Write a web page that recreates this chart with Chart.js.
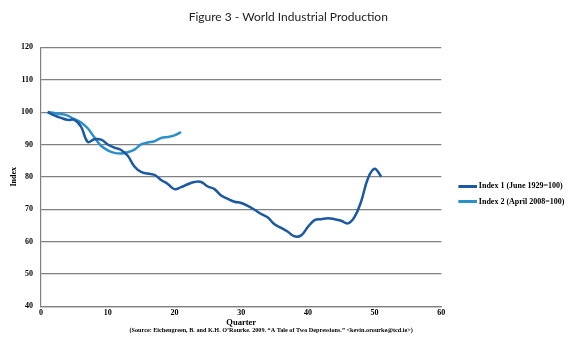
<!DOCTYPE html>
<html>
<head>
<meta charset="utf-8">
<script src="https://cdn.jsdelivr.net/npm/chart.js@4/dist/chart.umd.min.js"></script>
<style>
  html, body { margin: 0; padding: 0; background: #fff; }
  #wrap { width: 576px; height: 343px; }
</style>
</head>
<body>
<div id="wrap"><canvas id="Chart1"></canvas></div>
<script>
// Index 1 (June 1929=100), by quarter
const quarters1 = [1,2,3,4,5,6,7,8,9,10,11,12,13,14,15,16,17,18,19,20,21,22,23,24,25,26,27,28,29,30,31,32,33,34,35,36,37,38,39,40,41,42,43,44,45,46,47,48,49,50,51];
const index1 = [100,99.0,98.2,97.6,97.6,95.5,90.8,91.6,91.5,90.0,89.0,88.3,86.5,83.2,81.5,81.0,80.6,79.0,77.8,76.2,76.8,77.7,78.4,78.4,77.0,76.2,74.2,73.2,72.3,71.9,71.0,69.8,68.5,67.4,65.3,64.2,63.0,61.6,61.9,64.5,66.6,66.9,67.2,66.9,66.4,65.6,67.6,72.5,79.5,82.5,80.0];

// Index 2 (April 2008=100), by quarter
const quarters2 = [1,2,3,4,5,6,7,8,9,10,11,12,13,14,15,16,17,18,19,20,21];
const index2 = [100,99.7,99.4,98.9,97.8,96.8,95.0,92.2,89.6,88.2,87.4,87.2,87.6,88.4,90.0,90.6,91.0,92.0,92.3,92.8,93.8];

const seriesLabels = ["Index 1 (June 1929=100)", "Index 2 (April 2008=100)"];
const seriesColors = ["#1d58a2", "#2b90c8"];
const sourceText = "(Source: Eichengreen, B. and K.H. O\u2019Rourke. 2009. \u201cA Tale of Two Depressions.\u201d <kevin.orourke@tcd.ie>)";

const serif = "'Liberation Serif', 'DejaVu Serif', serif";

// legend marker: short line sitting at the right end of a wider box,
// so there is a gap between the plot and the legend lines
function legendMarker(color) {
  const c = document.createElement("canvas");
  c.width = 31;
  c.height = 3;
  const g = c.getContext("2d");
  g.fillStyle = color;
  g.fillRect(12, 0, 19, 3);
  return c;
}

// source line under the x axis title
const sourcePlugin = {
  id: "sourceLine",
  afterDraw(chart) {
    const ctx = chart.ctx;
    const area = chart.chartArea;
    ctx.save();
    ctx.font = "bold 6.2px " + serif;
    ctx.fillStyle = "#000";
    ctx.textAlign = "center";
    ctx.textBaseline = "middle";
    ctx.fillText(sourceText, (area.left + area.right) / 2 + 30, area.bottom + 24);
    ctx.restore();
  }
};

const ctx1 = document.getElementById("Chart1").getContext("2d");

new Chart(ctx1, {
  type: "line",
  data: {
    datasets: [
      {
        label: seriesLabels[0],
        data: quarters1.map((q, i) => ({ x: q, y: index1[i] })),
        borderColor: seriesColors[0],
        backgroundColor: seriesColors[0],
        borderWidth: 2.5,
        pointRadius: 0,
        pointStyle: legendMarker(seriesColors[0]),
        tension: 0.4,
      },
      {
        label: seriesLabels[1],
        data: quarters2.map((q, i) => ({ x: q, y: index2[i] })),
        borderColor: seriesColors[1],
        backgroundColor: seriesColors[1],
        borderWidth: 2.5,
        pointRadius: 0,
        pointStyle: legendMarker(seriesColors[1]),
        tension: 0.4,
      },
    ],
  },
  options: {
    responsive: true,
    maintainAspectRatio: false,
    animation: false,
    layout: {
      padding: { left: 2, right: 1.5, top: 8, bottom: 15.6 },
    },
    plugins: {
      title: {
        display: true,
        text: "Figure 3 - World Industrial Production",
        color: "#222",
        font: { family: "Lato, 'Open Sans', sans-serif", size: 12, weight: "normal" },
        padding: { top: 2, bottom: 23 },
      },
      legend: {
        position: "right",
        title: {
          display: true,
          text: " ",
          font: { size: 8 },
          padding: { top: 43, bottom: 0 },
        },
        labels: {
          usePointStyle: true,
          pointStyleWidth: 26,
          boxHeight: 3,
          padding: 7.5,
          color: "#000",
          font: { family: serif, size: 8, weight: "bold", lineHeight: 0.8 },
        },
      },
      tooltip: { enabled: false },
    },
    scales: {
      x: {
        type: "linear",
        min: 0,
        max: 60,
        ticks: {
          stepSize: 10,
          color: "#000",
          padding: 3,
          font: { family: serif, size: 8, weight: "bold", lineHeight: 1 },
        },
        grid: { display: false, drawTicks: false },
        border: { display: true, color: "#808080", width: 1.2 },
        title: {
          display: true,
          text: "Quarter",
          color: "#000",
          padding: { top: -3, bottom: 0 },
          font: { family: serif, size: 8.5, weight: "bold" },
        },
      },
      y: {
        min: 40,
        max: 120,
        afterFit(scale) { scale.width = 39; },
        ticks: {
          stepSize: 10,
          color: "#000",
          padding: 8,
          font: { family: serif, size: 8, weight: "bold" },
        },
        grid: { color: "#808080", lineWidth: 1.2, drawTicks: false },
        border: { display: true, color: "#808080", width: 1.2 },
        title: {
          display: true,
          text: "Index",
          color: "#000",
          padding: { top: 7, bottom: 0 },
          font: { family: serif, size: 8, weight: "bold" },
        },
      },
    },
  },
  plugins: [sourcePlugin],
});
</script>
</body>
</html>
